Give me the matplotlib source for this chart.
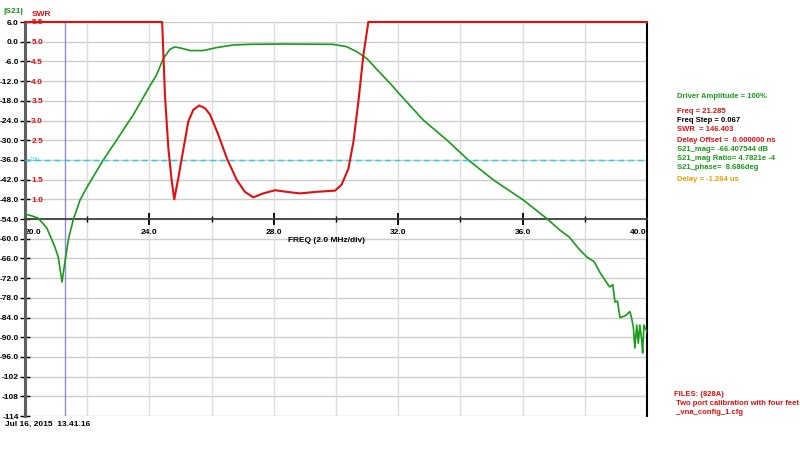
import numpy as np
import matplotlib.pyplot as plt

plt.rcParams['font.family'] = ['Liberation Sans', 'DejaVu Sans']
plt.rcParams['axes.unicode_minus'] = False

# |S21| trace (dB)
freq_s21 = [20.0, 20.2, 20.42, 20.7, 20.96, 21.07, 21.19, 21.3, 21.4, 21.55,
            21.77, 22.0, 22.52, 22.95, 23.48, 24.02, 24.23, 24.45, 24.66, 24.82,
            25.04, 25.3, 25.73, 26.16, 26.7, 27.24, 28.3, 29.9, 30.34, 30.66,
            30.99, 31.31, 31.74, 32.0, 32.81, 33.56, 34.25, 35.06, 36.02, 36.77,
            37.2, 37.5, 37.8, 38.07, 38.3, 38.5, 38.8, 38.9, 38.97, 39.05,
            39.13, 39.3, 39.45, 39.5, 39.56, 39.61, 39.67, 39.72, 39.77, 39.83,
            39.86, 39.9, 39.97, 40.0]
s21_db = [-52.5, -53.0, -53.7, -56.7, -62.5, -65.6, -73.2, -66.0, -60.0, -54.3,
          -48.2, -44.2, -36.0, -29.9, -22.3, -13.4, -10.1, -5.1, -2.3, -1.6,
          -2.0, -2.7, -2.7, -1.8, -1.0, -0.8, -0.7, -0.8, -1.5, -3.0,
          -5.1, -8.4, -12.7, -15.5, -23.9, -29.9, -36.0, -42.1, -48.2, -53.8,
          -57.4, -59.5, -63.0, -65.6, -67.0, -70.5, -74.7, -74.0, -79.3, -79.0,
          -84.0, -83.5, -82.2, -84.0, -86.8, -93.3, -86.3, -91.8, -86.3, -90.9,
          -94.8, -86.3, -87.8, -88.5]

# SWR trace (capped at 5.5 by the display)
freq_swr = [20.0, 24.41, 24.5, 24.61, 24.72, 24.8, 24.93, 25.04, 25.25, 25.41,
            25.6, 25.79, 25.95, 26.22, 26.49, 26.81, 27.07, 27.34, 27.66, 28.04,
            28.41, 28.84, 29.38, 29.97, 30.18, 30.4, 30.56, 30.72, 30.88, 31.04,
            40.0]
swr = [5.5, 5.5, 3.65, 2.29, 1.45, 1.0, 1.54, 2.04, 2.97, 3.27,
       3.38, 3.31, 3.15, 2.63, 2.04, 1.49, 1.19, 1.05, 1.15, 1.23,
       1.19, 1.15, 1.19, 1.22, 1.37, 1.78, 2.46, 3.48, 4.66, 5.5,
       5.5]

marker_freq = 21.285
swr_limit = 2.0

db_ticks = list(range(6, -115, -6))
db_labels = ['%.1f' % v if v > -100 else '%d' % v for v in db_ticks]
swr_ticks = [5.5, 5.0, 4.5, 4.0, 3.5, 3.0, 2.5, 1.5, 1.0]
freq_major = [20, 24, 28, 32, 36, 40]
freq_minor = [22, 26, 30, 34, 38]

info_lines = [
    ('Driver Amplitude = 100%', '#1a9a1a', 96.7),
    ('Freq = 21.285', '#dd1111', 111.7),
    ('Freq Step = 0.067', '#000000', 120.7),
    ('SWR  = 146.403', '#dd1111', 129.3),
    ('Delay Offset =  0.000000 ns', '#dd1111', 141.0),
    ('S21_mag= -66.407544 dB', '#1a9a1a', 149.3),
    ('S21_mag Ratio= 4.7821e -4', '#1a9a1a', 158.7),
    ('S21_phase=  8.686deg', '#1a9a1a', 167.3),
    ('Delay = -1.264 us', '#e8a000', 179.3),
]
file_lines = [
    ('FILES: (828A)', 674, 394.3),
    (' Two port calibration with four feet cable', 674, 403.3),
    (' _vna_config_1.cfg', 674, 412.3),
]

W, H = 800, 450
fig = plt.figure(figsize=(8, 4.5), dpi=100)
ax = fig.add_axes([25 / W, 1 - 416 / H, 622 / W, 394 / H])

ax.set_xlim(20, 40)
ax.set_ylim(-114, 6)

# grid
for v in db_ticks:
    ax.axhline(v, color='#cdcdcd', lw=1, zorder=0)
for f in range(22, 40, 2):
    ax.axvline(f, color='#dcdcdc', lw=1, zorder=0)

ax.axvline(marker_freq, color='#8c8cd8', lw=1, zorder=1)

ax.plot(freq_s21, s21_db, color='#1a9a1a', lw=1.2, zorder=3)

# axes styling
ax.spines['top'].set_visible(False)
ax.spines['left'].set_color('#606060')
ax.spines['left'].set_linewidth(2.2)
ax.spines['right'].set_color('black')
ax.spines['right'].set_linewidth(1.5)
ax.spines['bottom'].set_position(('data', -54))
ax.spines['bottom'].set_color('#404040')
ax.spines['bottom'].set_linewidth(1.3)

ax.set_yticks(db_ticks, db_labels)
ax.tick_params(axis='y', which='both', left=True, right=True, direction='inout',
               length=7, width=1, labelsize=6, pad=1, colors='black')
for lab in ax.get_yticklabels():
    lab.set_fontweight('bold')

ax.set_xticks(freq_major, ['%.1f' % f for f in freq_major])
ax.set_xticks(freq_minor, minor=True)
ax.tick_params(axis='x', which='major', direction='inout', length=8, width=1.3,
               labelsize=6, pad=3)
ax.tick_params(axis='x', which='minor', direction='inout', length=5, width=1)
xlabs = ax.get_xticklabels()
for lab in xlabs:
    lab.set_fontweight('bold')
xlabs[0].set_horizontalalignment('left')
xlabs[-1].set_horizontalalignment('right')

# SWR scale
ax2 = ax.twinx()
ax2.set_ylim(5.5 - 10, 5.5)
ax2.set_xlim(20, 40)
for s in ax2.spines.values():
    s.set_visible(False)
ax2.yaxis.set_ticks_position('left')
ax2.yaxis.set_label_position('left')
ax2.set_yticks(swr_ticks, ['%.1f' % v for v in swr_ticks])
ax2.tick_params(axis='y', length=0, labelsize=6, pad=-13, colors='#dd1111')
for lab in ax2.get_yticklabels():
    lab.set_fontweight('bold')

ax2.axhline(swr_limit, color='#22d0e0', lw=1, ls=(0, (4, 3)), zorder=2)
ax2.text(20.15, swr_limit, '2.00', color='#22d0e0', fontsize=3.5,
         va='center', ha='left')
ax2.plot(freq_swr, swr, color='#e01010', lw=1.5, zorder=4, clip_on=False)

# text annotations
fig.text(3 / W, 1 - 11.5 / H, '|S21|', color='#1a9a1a', fontsize=6,
         fontweight='bold', va='center', ha='left')
fig.text(32 / W, 1 - 14 / H, 'SWR', color='#dd1111', fontsize=6,
         fontweight='bold', va='center', ha='left')
fig.text(5 / W, 1 - 424 / H, 'Jul 16, 2015  13.41.16', color='black',
         fontsize=6, fontweight='bold', va='center', ha='left')
fig.text(326 / W, 1 - 240 / H, 'FREQ (2.0 MHz/div)', color='black',
         fontsize=6, fontweight='bold', va='center', ha='center')

for txt, col, y in info_lines:
    fig.text(677 / W, 1 - y / H, txt, color=col, fontsize=5.5,
             fontweight='bold', va='center', ha='left')
for txt, x, y in file_lines:
    fig.text(x / W, 1 - y / H, txt, color='#dd1111', fontsize=5.5,
             fontweight='bold', va='center', ha='left')

fig.savefig('out.png', dpi=100)
